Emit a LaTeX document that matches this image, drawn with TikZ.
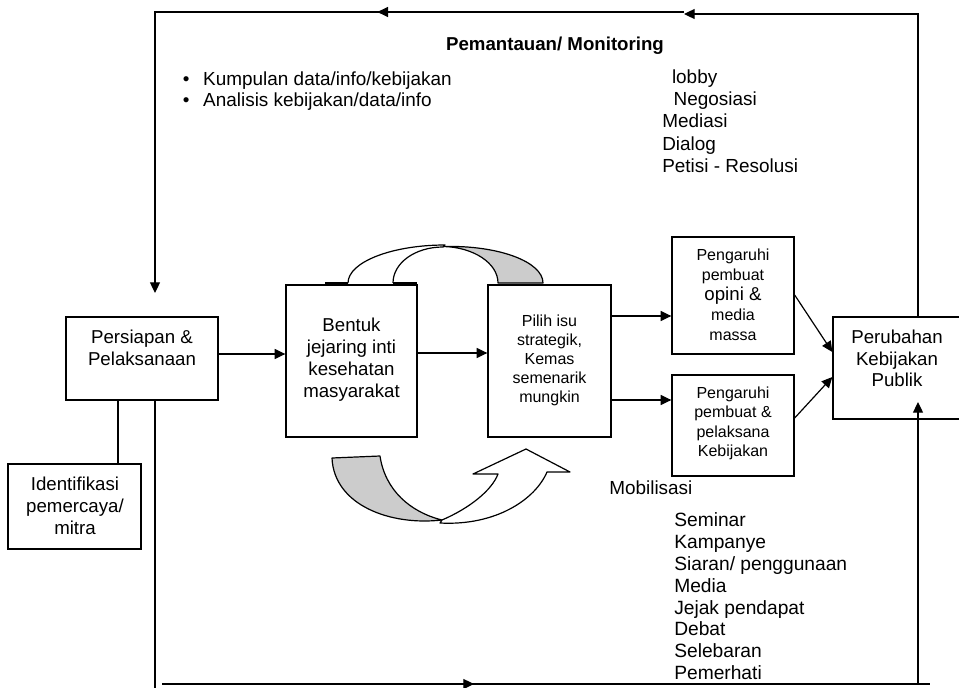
\documentclass[tikz,border=0pt]{standalone}
\usepackage{fontspec}
\setmainfont{Liberation Sans}
\usetikzlibrary{arrows.meta,fit,decorations.markings}
\begin{document}
\begin{tikzpicture}[x=0.75pt,y=-0.75pt,
  box/.style={draw, line width=1pt, fill=white, inner sep=0pt},
  conn/.style={line width=0.9pt},
  arr/.style={conn, -{Triangle[length=8pt,width=7.5pt]}},
  txt/.style={align=center, inner sep=0pt},
  lst/.style={align=left, inner sep=0pt, anchor=west},
  band/.style={line width=0.9pt, line join=round},
  midarr/.style={postaction={decorate}, decoration={markings, mark=at position #1 with {\arrow{Triangle[length=8pt,width=7.5pt]}}}}
]
\useasboundingbox (0,0) rectangle (959,688);

% ---- upper curved band (arrow head hidden behind the box) ----
\filldraw[band, fill=gray!40] (443,246.5) .. controls (499,245) and (543,262) .. (543,283)
   -- (498,283) .. controls (498,263) and (473,247) .. (443,246.5) -- cycle;
\fill[white] (348,283) .. controls (348,262) and (392,245) .. (445,245)
   -- (443,247) .. controls (415,247) and (393,263) .. (393,283) -- cycle;
\draw[band] (348,283) .. controls (348,262) and (392,245) .. (445,245)
   -- (443,247) .. controls (415,247) and (393,263) .. (393,283);
\draw[line width=1.6pt] (325,283.3) -- (348,283.3) (393,283.3) -- (417,283.3);

% ---- lower curved band ----
\filldraw[band, fill=gray!40] (332,458) -- (380,456) .. controls (385,490) and (410,512) .. (442,520)
   .. controls (390,526) and (334,505) .. (332,458) -- cycle;
\filldraw[band, fill=white] (442,520) .. controls (470,508) and (492,490) .. (498,474)
   -- (473,474) -- (526,449) -- (570,472) -- (547,472)
   .. controls (535,500) and (495,526) .. (440,523) -- cycle;

% ---- boxes ----
\node[box, fit={(66,317) (218,400)}] (persiapan) {};
\node[box, fit={(8,464) (141,549)}] (ident) {};
\node[box, fit={(286,285) (417,437)}] (bentuk) {};
\node[box, fit={(488,285) (611,437)}] (pilih) {};
\node[box, fit={(672,237) (794,354)}] (peng1) {};
\node[box, fit={(672,375) (794,476)}] (peng2) {};
\node[box, fit={(833,317) (964,419)}] (perubahan) {};

% ---- box texts ----
\node[txt, font=\fontsize{14}{16.5}\selectfont] (persiapanT) at (142,347.5) {Persiapan \&\\Pelaksanaan};
\node[txt, font=\fontsize{14}{16.3}\selectfont] (bentukT) at (351.5,359.6) {Bentuk\\jejaring inti\\kesehatan\\masyarakat};
\node[txt, font=\fontsize{12}{14.25}\selectfont] (pilihT) at (549.5,360.8) {Pilih isu\\strategik,\\Kemas\\semenarik\\mungkin};
\node[txt, font=\fontsize{12}{15}\selectfont] (peng1T) at (733,294.9) {Pengaruhi\\pembuat\\{\fontsize{14}{15}\selectfont opini \&}\\media\\massa};
\node[txt, font=\fontsize{12}{14.6}\selectfont] (peng2T) at (733,423.5) {Pengaruhi\\pembuat \&\\pelaksana\\Kebijakan};
\node[txt, font=\fontsize{14}{16}\selectfont] (perubahanT) at (897,358.6) {Perubahan\\Kebijakan\\Publik};
\node[txt, font=\fontsize{14}{16.6}\selectfont] (identT) at (75,506) {Identifikasi\\pemercaya/\\mitra};

% ---- free texts ----
\node[txt, font=\bfseries\fontsize{14}{16}\selectfont] (title) at (555,46.2) {Pemantauan/ Monitoring};
\node[lst, font=\fontsize{14.2}{16.3}\selectfont] (bullets) at (182.7,91)
  {\makebox[15.2pt][l]{\textbullet}Kumpulan data/info/kebijakan\\\makebox[15.2pt][l]{\textbullet}Analisis kebijakan/data/info};
\node[lst, font=\fontsize{14.2}{16.7}\selectfont] (tactics) at (662,121)
  {\hspace*{7.3pt}lobby\\\hspace*{8.5pt}Negosiasi\\Mediasi\\Dialog\\Petisi - Resolusi};
\node[inner sep=0pt, anchor=base west, font=\fontsize{14.2}{16}\selectfont] (mobil) at (609,494) {Mobilisasi};
\node[lst, font=\fontsize{14.4}{16.35}\selectfont] (media) at (674,596.3)
  {Seminar\\Kampanye\\Siaran/ penggunaan\\Media\\Jejak pendapat\\Debat\\Selebaran\\Pemerhati};

% ---- helper coordinates ----
\coordinate (cL) at (155,0);
\coordinate (cR) at (918,0);
\coordinate (cI) at (118,0);
\coordinate (yA) at (0,354);
\coordinate (yB) at (0,353);
\coordinate (yC) at (0,316);
\coordinate (yD) at (0,400);
\coordinate (yE) at (0,295);
\coordinate (yF) at (0,352);
\coordinate (yG) at (0,418);
\coordinate (yH) at (0,377);
\coordinate (tR) at (918,14);
\coordinate (tM) at (684,14);
\coordinate (tM2) at (684,12);
\coordinate (tL) at (155,12);
\coordinate (dTip) at (155,293);
\coordinate (bL) at (155,688);
\coordinate (bS) at (162,684);
\coordinate (bE) at (930,684);
\coordinate (bR) at (918,684);
\coordinate (uTip) at (918,402);

% ---- connectors ----
\draw[arr] (persiapan.east |- yA) -- (bentuk.west |- yA);
\draw[arr] (bentuk.east |- yB) -- (pilih.west |- yB);
\draw[arr] (pilih.east |- yC) -- (peng1.west |- yC);
\draw[arr] (pilih.east |- yD) -- (peng2.west |- yD);
\draw[arr] (peng1.east |- yE) -- (perubahan.west |- yF);
\draw[arr] (peng2.east |- yG) -- (perubahan.west |- yH);
\draw[conn] (persiapan.south -| cI) -- (ident.north -| cI);

\draw[arr] (perubahan.north -| cR) -- (tR) -- (tM);
\draw[arr, midarr=230pt] (tM2) -- (tL) -- (dTip);

\draw[conn] (persiapan.south -| cL) -- (bL);
\draw[conn, midarr=234pt] (bS) -- (bE);
\draw[arr] (bR) -- (uTip);
\end{tikzpicture}
\end{document}
